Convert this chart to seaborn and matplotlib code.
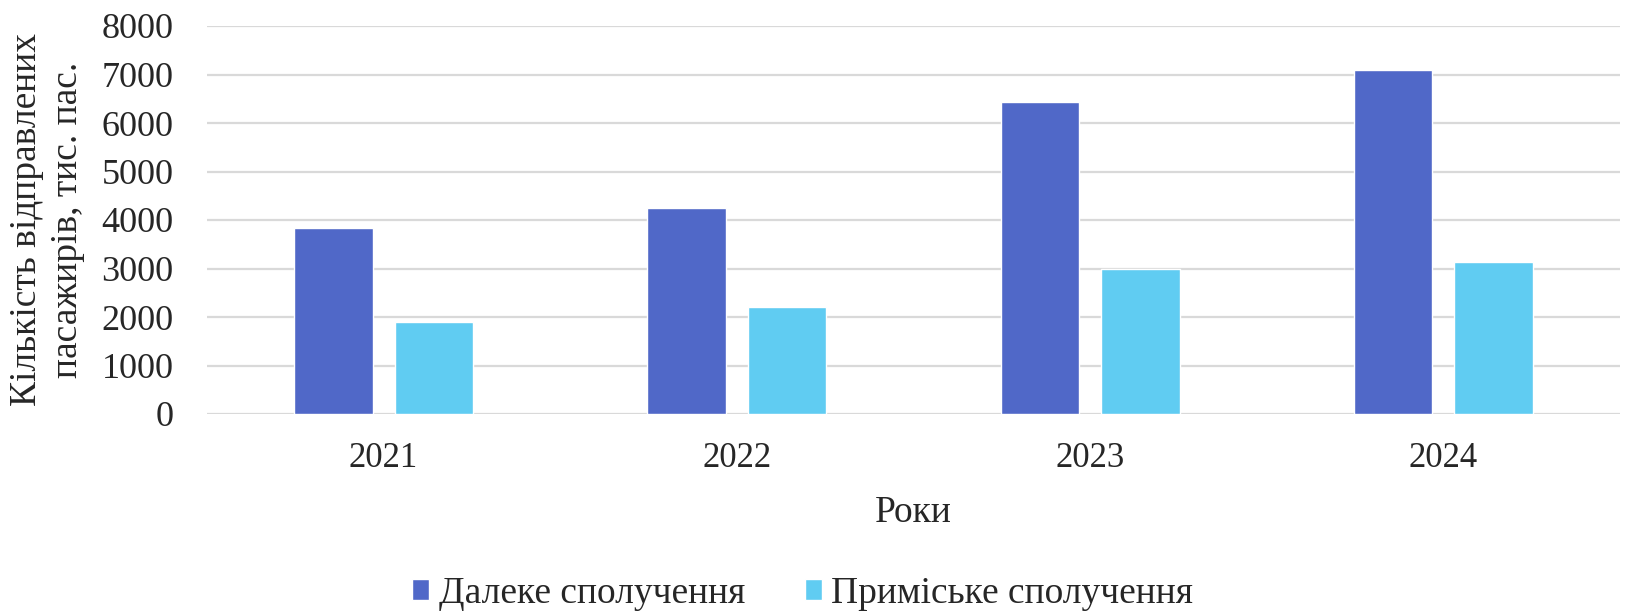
import numpy as np
import pandas as pd
import matplotlib
matplotlib.use("Agg")
import matplotlib.pyplot as plt
import seaborn as sns

years = ["2021", "2022", "2023", "2024"]
long_distance = [3842, 4254, 6439, 7103]
suburban = [1890, 2199, 2980, 3130]
series_names = ["Далеке сполучення", "Приміське сполучення"]
colors = ["#5068C8", "#60CCF2"]

df = pd.DataFrame({
    "year": years * 2,
    "value": long_distance + suburban,
    "series": [series_names[0]] * 4 + [series_names[1]] * 4,
})

sns.set_style("white")
plt.rcParams["font.family"] = ["Liberation Serif", "DejaVu Serif"]

fig = plt.figure(figsize=(16.25, 6.12), dpi=100)
# axes: x 207..1620 px, y 26..414 px (from top)
ax = fig.add_axes([207 / 1625, (612 - 414) / 612, 1413 / 1625, 388 / 612])

sns.barplot(data=df, x="year", y="value", hue="series", palette=colors,
            width=0.57, gap=0.22, ax=ax, saturation=1, legend=True)

ax.set_ylim(0, 8000)
ax.set_yticks(np.arange(0, 8001, 1000))
ax.yaxis.grid(True, color="#D9D9D9", linewidth=1.6)
ax.set_axisbelow(True)
for s in ax.spines.values():
    s.set_visible(False)
ax.tick_params(axis="both", length=0)
ax.tick_params(axis="x", labelsize=25, pad=20)
ax.tick_params(axis="y", labelsize=26, pad=24)

ax.set_xlabel("Роки", fontsize=27, labelpad=15)
ax.set_ylabel("Кількість відправлених\nпасажирів, тис. пас.", fontsize=27,
              labelpad=12, linespacing=1.25)

handles, labels = ax.get_legend_handles_labels()
ax.get_legend().remove()
fig.legend(handles, labels, loc="center", bbox_to_anchor=(0.494, 0.03),
           ncol=2, frameon=False, fontsize=27, handlelength=0.45,
           handleheight=0.45, handletextpad=0.25, columnspacing=1.6,
           borderpad=0)

fig.savefig("out.png", dpi=100)
